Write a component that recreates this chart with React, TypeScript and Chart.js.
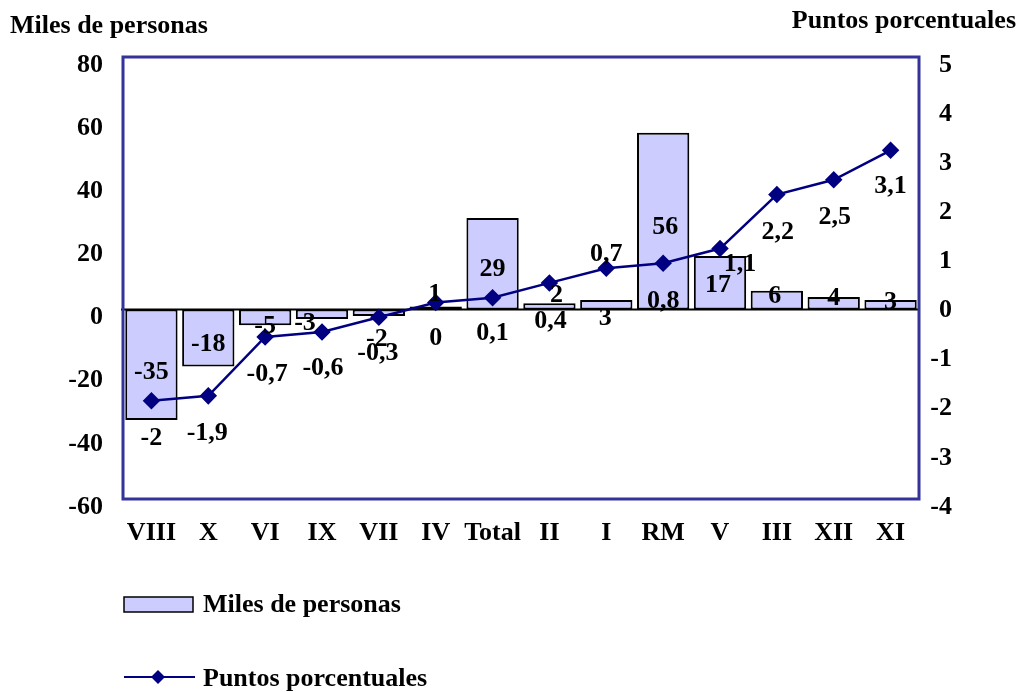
import React, { useEffect, useRef } from 'react';
import { Chart, registerables } from 'chart.js';

Chart.register(...registerables);

const categories = ['VIII', 'X', 'VI', 'IX', 'VII', 'IV', 'Total', 'II', 'I', 'RM', 'V', 'III', 'XII', 'XI'];
const milesDePersonas = [-35, -18, -5, -3, -2, 1, 29, 2, 3, 56, 17, 6, 4, 3];
const puntosPorcentuales = [-2, -1.9, -0.7, -0.6, -0.3, 0, 0.1, 0.4, 0.7, 0.8, 1.1, 2.2, 2.5, 3.1];
const leftAxisTicks = [-60, -40, -20, 0, 20, 40, 60, 80];
const rightAxisTicks = [-4, -3, -2, -1, 0, 1, 2, 3, 4, 5];
const seriesNames = ['Miles de personas', 'Puntos porcentuales'];
const leftAxisTitle = 'Miles de personas';
const rightAxisTitle = 'Puntos porcentuales';

// label placement tweaks (pixels), style only
const barLabelOffsets: [number, number][] = [
  [0, 7], [0, 6], [0, 9], [-17, 9], [-2, 27], [-1, -14], [0, 5],
  [7, -11], [-1, 13], [2, 6], [-2, 3], [-2, -4], [0, -5], [0, -3],
];
const lineLabelOffsets: [number, number][] = [
  [0, 38], [-1, 37], [2, 37], [1, 36], [-1, 36], [0, 36], [0, 36],
  [1, 38], [0, -14], [0, 38], [20, 16], [1, 38], [1, 38], [0, 36],
];

const FONT_FAMILY = "'Liberation Serif', 'Times New Roman', serif";
const BAR_FILL = '#CCCCFF';
const LINE_COLOR = '#000080';
const FRAME_COLOR = '#333399';
const FONT_SIZE = 26;

const fmt = (v: number) => String(v).replace('.', ',');

const overlayPlugin = {
  id: 'overlay',
  beforeDatasetsDraw(chart: any) {
    const { ctx, chartArea: a, scales } = chart;
    const y0 = scales.y.getPixelForValue(0);
    ctx.save();
    ctx.strokeStyle = '#000';
    ctx.lineWidth = 2;
    ctx.beginPath();
    ctx.moveTo(a.left - 2, y0);
    ctx.lineTo(a.right, y0);
    ctx.stroke();
    ctx.restore();
  },
  afterDatasetsDraw(chart: any) {
    const { ctx, chartArea: a } = chart;
    ctx.save();
    ctx.strokeStyle = FRAME_COLOR;
    ctx.lineWidth = 3;
    ctx.strokeRect(a.left, a.top, a.right - a.left, a.bottom - a.top);

    ctx.fillStyle = '#000';
    ctx.font = `bold ${FONT_SIZE}px ${FONT_FAMILY}`;
    ctx.textAlign = 'center';
    ctx.textBaseline = 'middle';

    const barMeta = chart.getDatasetMeta(0);
    barMeta.data.forEach((el: any, i: number) => {
      const p = el.getProps(['x', 'y', 'base'], true);
      const [dx, dy] = barLabelOffsets[i] || [0, 0];
      ctx.fillText(fmt(milesDePersonas[i]), p.x + dx, (p.y + p.base) / 2 + dy);
    });
    const lineMeta = chart.getDatasetMeta(1);
    lineMeta.data.forEach((el: any, i: number) => {
      const p = el.getProps(['x', 'y'], true);
      const [dx, dy] = lineLabelOffsets[i] || [0, 0];
      ctx.fillText(fmt(puntosPorcentuales[i]), p.x + dx, p.y + dy);
    });
    ctx.restore();
  },
  afterDraw(chart: any) {
    const { ctx } = chart;
    ctx.save();
    ctx.fillStyle = '#000';
    ctx.font = `bold ${FONT_SIZE}px ${FONT_FAMILY}`;
    ctx.textBaseline = 'alphabetic';
    ctx.textAlign = 'left';
    ctx.fillText(leftAxisTitle, 10, 33);
    ctx.textAlign = 'right';
    ctx.fillText(rightAxisTitle, 1016, 28);

    // legend
    ctx.textAlign = 'left';
    ctx.textBaseline = 'middle';
    ctx.fillStyle = BAR_FILL;
    ctx.fillRect(124, 597, 69, 15);
    ctx.strokeStyle = '#000';
    ctx.lineWidth = 1.5;
    ctx.strokeRect(124, 597, 69, 15);
    ctx.fillStyle = '#000';
    ctx.fillText(seriesNames[0], 203, 605);

    ctx.strokeStyle = LINE_COLOR;
    ctx.lineWidth = 2;
    ctx.beginPath();
    ctx.moveTo(124, 677);
    ctx.lineTo(195, 677);
    ctx.stroke();
    ctx.fillStyle = LINE_COLOR;
    ctx.beginPath();
    ctx.moveTo(158, 670);
    ctx.lineTo(165, 677);
    ctx.lineTo(158, 684);
    ctx.lineTo(151, 677);
    ctx.closePath();
    ctx.fill();
    ctx.fillStyle = '#000';
    ctx.fillText(seriesNames[1], 203, 679);
    ctx.restore();
  },
};

export default function App() {
  const canvasRef = useRef<HTMLCanvasElement>(null);

  useEffect(() => {
    document.body.style.margin = '0';
    const canvas = canvasRef.current;
    if (!canvas) return;
    const chart = new Chart(canvas, {
      type: 'bar',
      data: {
        labels: categories,
        datasets: [
          {
            type: 'bar',
            label: seriesNames[0],
            data: milesDePersonas,
            backgroundColor: BAR_FILL,
            borderColor: '#000',
            borderWidth: 2,
            borderSkipped: false,
            barPercentage: 0.92,
            categoryPercentage: 1,
            yAxisID: 'y',
            order: 2,
          },
          {
            type: 'line',
            label: seriesNames[1],
            data: puntosPorcentuales,
            borderColor: LINE_COLOR,
            backgroundColor: LINE_COLOR,
            borderWidth: 2.5,
            pointStyle: 'rectRot',
            pointRadius: 7,
            pointBackgroundColor: LINE_COLOR,
            pointBorderColor: LINE_COLOR,
            tension: 0,
            yAxisID: 'y1',
            order: 1,
          },
        ],
      },
      options: {
        responsive: false,
        maintainAspectRatio: false,
        animation: false,
        layout: { padding: { top: 57, bottom: 133, left: 0, right: 71 } },
        plugins: {
          legend: { display: false },
          tooltip: { enabled: false },
          title: { display: false },
        },
        scales: {
          x: {
            grid: { display: false },
            border: { display: false },
            ticks: {
              color: '#000',
              padding: 11,
              font: { family: FONT_FAMILY, size: FONT_SIZE, weight: 'bold' },
              maxRotation: 0,
              autoSkip: false,
            },
            afterFit: (s: any) => { s.height = 60; },
          },
          y: {
            position: 'left',
            min: leftAxisTicks[0],
            max: leftAxisTicks[leftAxisTicks.length - 1],
            grid: { display: false },
            border: { display: false },
            afterBuildTicks: (s: any) => { s.ticks = leftAxisTicks.map((v) => ({ value: v })); },
            ticks: {
              color: '#000',
              padding: 12,
              labelOffset: 8,
              font: { family: FONT_FAMILY, size: FONT_SIZE, weight: 'bold' },
            },
            afterFit: (s: any) => { s.width = 123; },
          },
          y1: {
            position: 'right',
            min: rightAxisTicks[0],
            max: rightAxisTicks[rightAxisTicks.length - 1],
            grid: { display: false },
            border: { display: false },
            afterBuildTicks: (s: any) => { s.ticks = rightAxisTicks.map((v) => ({ value: v })); },
            ticks: {
              color: '#000',
              crossAlign: 'far',
              labelOffset: 8,
              font: { family: FONT_FAMILY, size: FONT_SIZE, weight: 'bold' },
            },
            afterFit: (s: any) => { s.width = 33; },
          },
        },
      },
      plugins: [overlayPlugin],
    });
    return () => chart.destroy();
  }, []);

  return (
    <div style={{ width: 1023, height: 692, background: '#fff' }}>
      <canvas ref={canvasRef} width={1023} height={692} style={{ display: 'block' }} />
    </div>
  );
}
